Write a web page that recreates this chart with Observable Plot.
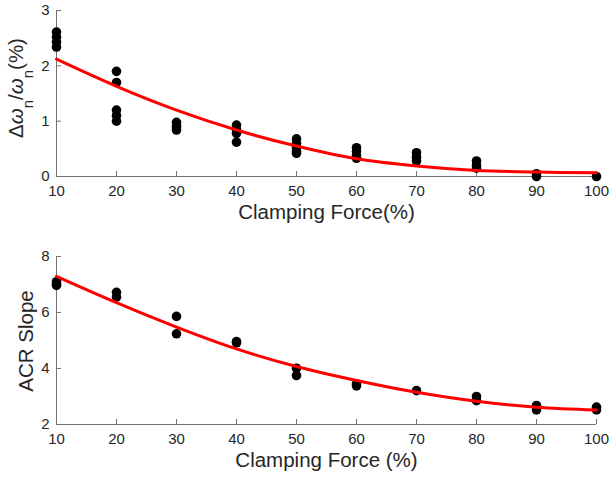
<!DOCTYPE html>
<html>
<head>
<meta charset="utf-8">
<script src="https://cdn.jsdelivr.net/npm/d3@7"></script>
<script src="https://cdn.jsdelivr.net/npm/@observablehq/plot@0.6"></script>
<style>
  body { margin: 0; background: #fff; }
  #chart { width: 610px; }
  #chart svg { display: block; }
</style>
</head>
<body>
<div id="chart"></div>
<script>
// Force levels (%)
const forceLevels = [10, 20, 30, 40, 50, 60, 70, 80, 90, 100];
const xTicks = [10, 20, 30, 40, 50, 60, 70, 80, 90, 100];

// Top panel: frequency shift Δω_n/ω_n (%)
const dwX = [10,10,10,10, 20,20,20,20,20, 30,30,30,30, 40,40,40,40, 50,50,50,50,50, 60,60,60,60, 70,70,70, 80,80,80, 90,90, 100];
const dwY = [2.61,2.52,2.43,2.34, 1.9,1.7,1.2,1.1,1.0, 0.98,0.92,0.88,0.84, 0.93,0.85,0.78,0.62, 0.68,0.6,0.52,0.45,0.42, 0.52,0.45,0.38,0.33, 0.43,0.35,0.28, 0.28,0.2,0.15, 0.05,0.0, 0.0];
const dwFit = [2.12, 1.63, 1.2, 0.84, 0.55, 0.32, 0.19, 0.11, 0.08, 0.07];
const dwTicks = [0, 1, 2, 3];

// Bottom panel: ACR slope
const acrX = [10,10,10, 20,20, 30,30, 40,40, 50,50, 60,60, 70, 80,80, 90,90, 100,100];
const acrY = [7.1,7.0,6.97, 6.72,6.55, 5.86,5.24, 4.96,4.92, 4.01,3.75, 3.45,3.38, 3.21, 3.0,2.85, 2.68,2.52, 2.62,2.52];
const acrFit = [7.29, 6.35, 5.48, 4.7, 4.07, 3.57, 3.15, 2.83, 2.62, 2.52];
const acrTicks = [2, 4, 6, 8];

const axisColor = "#737373";
const textColor = "#262626";
const font = "Liberation Sans, Arial, Helvetica, sans-serif";
const W = 610, ML = 56, MR = 14, TICK = 5;

function panel({xs, ys, fit, yDomain, yTicks, height, marginTop, marginBottom, xLabel, xLabelDy, xTickPad}) {
  const pts = xs.map((x, i) => ({x, y: ys[i]}));
  const line = forceLevels.map((x, i) => ({x, y: fit[i]}));
  const frameH = height - marginTop - marginBottom;
  const frameW = W - ML - MR;
  return Plot.plot({
    width: W,
    height,
    marginLeft: ML,
    marginRight: MR,
    marginTop,
    marginBottom,
    style: {fontFamily: font, fontSize: "15px", color: textColor, background: "#fff"},
    x: {domain: [10, 100]},
    y: {domain: yDomain},
    marks: [
      Plot.ruleY([yDomain[0]], {stroke: axisColor}),
      Plot.ruleX([10], {stroke: axisColor}),
      // inward tick marks
      Plot.ruleX(xTicks, {stroke: axisColor, insetTop: frameH - TICK}),
      Plot.ruleY(yTicks, {stroke: axisColor, insetRight: frameW - TICK}),
      Plot.axisX({ticks: xTicks, tickFormat: "d", tickSize: 0, tickPadding: xTickPad, fill: textColor, label: null, fontSize: 15}),
      Plot.axisY({ticks: yTicks, tickFormat: "d", tickSize: 0, tickPadding: 7, fill: textColor, label: null, fontSize: 15}),
      Plot.dot(pts, {x: "x", y: "y", r: 4.8, fill: "black", stroke: null}),
      Plot.line(line, {x: "x", y: "y", stroke: "#ff0000", strokeWidth: 3, curve: "catmull-rom"}),
      Plot.text([xLabel], {frameAnchor: "bottom", dy: xLabelDy, text: d => d, fontSize: 20.5, fill: textColor})
    ]
  });
}

const topPanel = panel({xs: dwX, ys: dwY, fit: dwFit, yDomain: [0, 3], yTicks: dwTicks, height: 240, marginTop: 10, marginBottom: 64, xLabel: "Clamping Force(%)", xLabelDy: 42, xTickPad: 9});
const bottomPanel = panel({xs: acrX, ys: acrY, fit: acrFit, yDomain: [2, 8], yTicks: acrTicks, height: 240, marginTop: 16, marginBottom: 56, xLabel: "Clamping Force (%)", xLabelDy: 42, xTickPad: 9});

// Y axis labels
function addYLabel(svg, cx, cy, build) {
  const t = d3.select(svg).append("text")
    .attr("transform", `translate(${cx},${cy}) rotate(-90)`)
    .attr("text-anchor", "middle")
    .attr("font-family", font)
    .attr("font-size", 20.5)
    .attr("fill", textColor);
  build(t);
}

addYLabel(topPanel, 23, 88, t => {
  t.append("tspan").text("Δ");
  t.append("tspan").attr("font-style", "italic").text("ω");
  t.append("tspan").attr("dy", 10).attr("font-size", 15).text("n");
  t.append("tspan").attr("dy", -10).text("/");
  t.append("tspan").attr("font-style", "italic").text("ω");
  t.append("tspan").attr("dy", 10).attr("font-size", 15).text("n");
  t.append("tspan").attr("dy", -10).text("(%)");
});
addYLabel(bottomPanel, 33, 101, t => t.text("ACR Slope"));

document.getElementById("chart").append(topPanel, bottomPanel);
</script>
</body>
</html>
